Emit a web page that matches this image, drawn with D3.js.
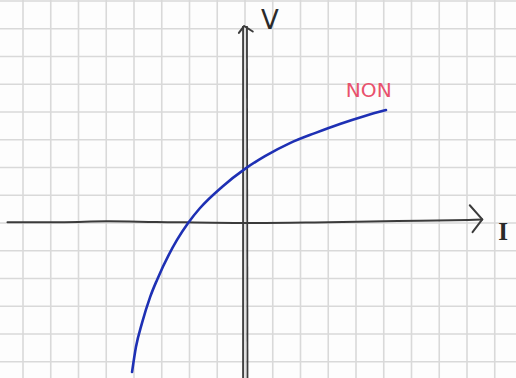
<!DOCTYPE html>
<html>
<head>
<meta charset="utf-8">
<script src="https://cdn.jsdelivr.net/npm/d3@7"></script>
<style>
  html, body { margin: 0; padding: 0; background: #fdfdfd; }
  svg { display: block; }
</style>
</head>
<body>
<script>
// Sketched characteristic on squared paper. All positions are in grid units.
const gridCols = d3.range(-8, 10);   // vertical grid lines
const gridRows = d3.range(-5, 9);    // horizontal grid lines

// Characteristic curve (current I on x, voltage V on y)
const curveI = [-4.07, -3.93, -3.71, -3.42, -3.17, -2.45, -2.05, -1.62, -0.83, 0.00, 0.72, 1.62, 2.52, 3.42, 4.32, 5.08];
const curveV = [-5.37, -4.47, -3.60, -2.67, -2.05, -0.61, 0.00, 0.54, 1.30, 1.95, 2.41, 2.88, 3.24, 3.57, 3.86, 4.07];

// Hand-drawn axes
const xAxisI = [-8.56, -6.5, -5.0, -3.2, 0.0, 2.5, 5.5, 8.05, 8.55];
const xAxisV = [0.03, 0.03, 0.06, 0.04, 0.00, 0.02, 0.07, 0.11, 0.13];
const yAxisV = [7.10, -5.7];

const axisLabels = ["I", "V"];
const seriesLabel = "NON";

const W = 516, H = 378;
const unit = 27.75;
const x = d3.scaleLinear().domain([0, 1]).range([245, 245 + unit]);
const y = d3.scaleLinear().domain([0, 1]).range([223, 223 - unit]);

const svg = d3.select("body").append("svg").attr("width", W).attr("height", H);

// squared paper
const grid = svg.append("g").attr("stroke", "#d9d9d9").attr("stroke-width", 1.6);
grid.selectAll("line.c").data(gridCols).join("line").attr("class", "c")
  .attr("x1", d => x(d)).attr("x2", d => x(d)).attr("y1", 0).attr("y2", H);
grid.selectAll("line.r").data(gridRows).join("line").attr("class", "r")
  .attr("y1", d => y(d)).attr("y2", d => y(d)).attr("x1", 0).attr("x2", W);

const pen = d3.line().x(d => x(d[0])).y(d => y(d[1])).curve(d3.curveCatmullRom);
const straight = d3.line().x(d => x(d[0])).y(d => y(d[1]));
const ink = "#3b3b3b";

// horizontal axis (I)
svg.append("path").datum(xAxisI.map((v, i) => [v, xAxisV[i]]))
  .attr("d", pen).attr("fill", "none").attr("stroke", ink).attr("stroke-width", 2).attr("stroke-linecap", "round");
svg.append("path").datum([[8.1, 0.64], [8.55, 0.13], [8.2, -0.33]])
  .attr("d", straight)
  .attr("fill", "none").attr("stroke", ink).attr("stroke-width", 2).attr("stroke-linecap", "round").attr("stroke-linejoin", "round");

// vertical axis (V), traced twice
[-0.07, 0.07].forEach((o, k) => {
  svg.append("path").datum(yAxisV.map((v, i) => [o + (i ? 0.02 * k : 0), v]))
    .attr("d", straight)
    .attr("fill", "none").attr("stroke", ink).attr("stroke-width", 1.8);
});
svg.append("path").datum([[-0.22, 6.85], [-0.03, 7.1], [0.28, 6.9]])
  .attr("d", straight)
  .attr("fill", "none").attr("stroke", ink).attr("stroke-width", 2).attr("stroke-linecap", "round").attr("stroke-linejoin", "round");

// characteristic
svg.append("path").datum(curveI.map((v, i) => [v, curveV[i]]))
  .attr("d", d3.line().x(d => x(d[0])).y(d => y(d[1])).curve(d3.curveMonotoneX))
  .attr("fill", "none").attr("stroke", "#1e30b4").attr("stroke-width", 2.6).attr("stroke-linecap", "round");

// labels
svg.append("text").attr("x", x(9.3)).attr("y", y(-0.62))
  .attr("text-anchor", "middle").attr("font-family", "Liberation Serif").attr("font-weight", "bold")
  .attr("font-size", 25).attr("fill", "#2a2a2a").text(axisLabels[0]);
svg.append("text").attr("x", x(0.9)).attr("y", y(6.98))
  .attr("text-anchor", "middle").attr("font-family", "DejaVu Sans").attr("font-size", 26)
  .attr("fill", "#2a2a2a").text(axisLabels[1]);
svg.append("text").attr("x", x(3.63)).attr("y", y(4.53))
  .attr("font-family", "DejaVu Sans").attr("font-size", 20)
  .attr("textLength", 46).attr("lengthAdjust", "spacingAndGlyphs")
  .attr("fill", "#e9516c").text(seriesLabel);
</script>
</body>
</html>
